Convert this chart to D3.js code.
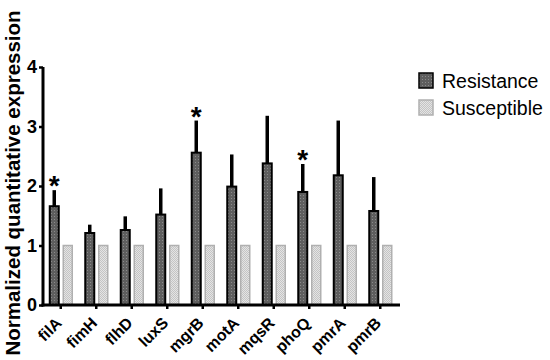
<!DOCTYPE html>
<html>
<head>
<meta charset="UTF-8">
<script src="https://d3js.org/d3.v7.min.js"></script>
<style>
  body { margin: 0; background: #fff; }
  text { font-family: "Liberation Sans", Arial, sans-serif; }
</style>
</head>
<body>
<svg width="550" height="360"></svg>
<script>
// data
var genes = ["filA", "fimH", "flhD", "luxS", "mgrB", "motA", "mqsR", "phoQ", "pmrA", "pmrB"];
var resistance = [1.66, 1.21, 1.26, 1.52, 2.56, 1.99, 2.38, 1.90, 2.18, 1.58];
var resistanceErr = [0.27, 0.14, 0.23, 0.44, 0.54, 0.54, 0.80, 0.47, 0.92, 0.57];
var susceptible = [1, 1, 1, 1, 1, 1, 1, 1, 1, 1];
var significant = ["filA", "mgrB", "phoQ"];
var yTicks = [0, 1, 2, 3, 4];

var svg = d3.select("svg");
var plotLeft = 43, plotRight = 398, plotTop = 67, plotBottom = 305;

var x = d3.scaleBand().domain(genes).range([plotLeft, plotRight]);
var y = d3.scaleLinear().domain([0, 4]).range([plotBottom, plotTop]);

// patterns
var defs = svg.append("defs");
var p1 = defs.append("pattern").attr("id", "dark").attr("width", 3).attr("height", 3)
  .attr("patternUnits", "userSpaceOnUse");
p1.append("rect").attr("width", 3).attr("height", 3).attr("fill", "#5e5e5e");
p1.append("rect").attr("width", 1).attr("height", 1).attr("fill", "#8a8a8a");
var p2 = defs.append("pattern").attr("id", "light").attr("width", 2).attr("height", 2)
  .attr("patternUnits", "userSpaceOnUse");
p2.append("rect").attr("width", 2).attr("height", 2).attr("fill", "#e4e4e4");
p2.append("rect").attr("width", 1).attr("height", 1).attr("fill", "#c4c4c4");
p2.append("rect").attr("x", 1).attr("y", 1).attr("width", 1).attr("height", 1).attr("fill", "#c4c4c4");

var barW = 9;
var resOff = -6.5, susOff = 7;

// error bars (drawn under bars)
svg.selectAll(".err").data(genes).enter().append("line")
  .attr("x1", function(d) { return x(d) + x.bandwidth() / 2 + resOff; })
  .attr("x2", function(d) { return x(d) + x.bandwidth() / 2 + resOff; })
  .attr("y1", function(d, i) { return y(resistance[i]); })
  .attr("y2", function(d, i) { return y(resistance[i] + resistanceErr[i]); })
  .attr("stroke", "#000").attr("stroke-width", 3.5);

// resistance bars
svg.selectAll(".res").data(genes).enter().append("rect")
  .attr("x", function(d) { return x(d) + x.bandwidth() / 2 + resOff - barW / 2; })
  .attr("y", function(d, i) { return y(resistance[i]); })
  .attr("width", barW)
  .attr("height", function(d, i) { return plotBottom - y(resistance[i]); })
  .attr("fill", "url(#dark)").attr("stroke", "#000").attr("stroke-width", 2);

// susceptible bars
svg.selectAll(".sus").data(genes).enter().append("rect")
  .attr("x", function(d) { return x(d) + x.bandwidth() / 2 + susOff - barW / 2; })
  .attr("y", function(d, i) { return y(susceptible[i]); })
  .attr("width", barW)
  .attr("height", function(d, i) { return plotBottom - y(susceptible[i]); })
  .attr("fill", "url(#light)").attr("stroke", "#b0b0b0").attr("stroke-width", 1.5);

// asterisks
svg.selectAll(".star").data(significant).enter().append("text")
  .attr("x", function(d) { return x(d) + x.bandwidth() / 2 + resOff; })
  .attr("y", function(d) { var i = genes.indexOf(d); return y(resistance[i] + resistanceErr[i]) + 5; })
  .attr("text-anchor", "middle")
  .attr("font-size", "28px").attr("font-weight", "bold")
  .text("*");

// y axis
var yAxis = svg.append("g").attr("transform", "translate(" + plotLeft + ",0)")
  .call(d3.axisLeft(y).tickValues(yTicks).tickFormat(d3.format("d")).tickSize(4).tickPadding(2));
yAxis.select(".domain").attr("stroke-width", 3).attr("d", "M0," + (plotBottom + 1.5) + "V" + plotTop);
yAxis.selectAll(".tick line").attr("stroke-width", 2.5);
yAxis.selectAll(".tick text").attr("font-size", "18px").attr("font-weight", "bold").attr("fill", "#000");

// x axis
var xAxis = svg.append("g").attr("transform", "translate(0," + plotBottom + ")")
  .call(d3.axisBottom(x).tickSize(4));
xAxis.select(".domain").attr("stroke-width", 3).attr("d", "M" + (plotLeft - 1.5) + ",0H" + (plotRight + 2));
xAxis.selectAll(".tick line").attr("stroke-width", 2.5);
xAxis.selectAll(".tick text")
  .attr("font-size", "16px").attr("font-weight", "bold").attr("fill", "#000")
  .attr("text-anchor", "end")
  .attr("y", 0)
  .attr("dy", "0.35em")
  .attr("transform", "translate(-2,15) rotate(-45)");

// y label
svg.append("text")
  .attr("transform", "translate(20,183) rotate(-90)")
  .attr("text-anchor", "middle")
  .attr("font-size", "20.5px").attr("font-weight", "bold")
  .text("Normalized quantitative expression");

// legend
var legend = [["Resistance", "url(#dark)", "#000"], ["Susceptible", "url(#light)", "#b0b0b0"]];
var lg = svg.selectAll(".lg").data(legend).enter().append("g")
  .attr("transform", function(d, i) { return "translate(419," + (73 + i * 27) + ")"; });
lg.append("rect").attr("width", 14).attr("height", 15)
  .attr("fill", function(d) { return d[1]; })
  .attr("stroke", function(d) { return d[2]; }).attr("stroke-width", 1.5);
lg.append("text").attr("x", 23).attr("y", 15)
  .attr("font-size", "19.5px").text(function(d) { return d[0]; });
</script>
</body>
</html>
